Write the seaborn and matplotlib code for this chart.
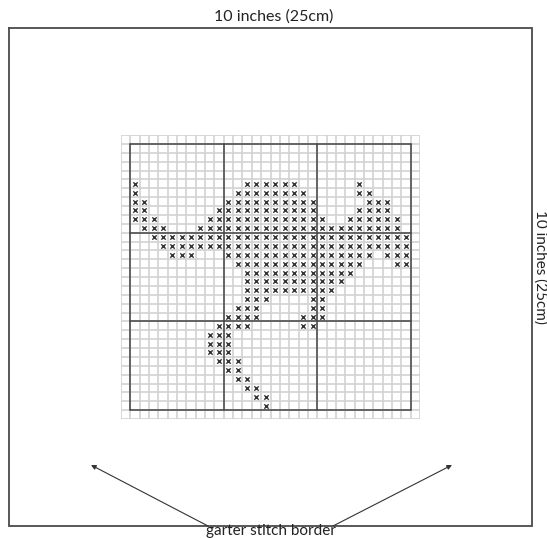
import pandas as pd
import matplotlib
matplotlib.use("Agg")
import matplotlib.pyplot as plt
import seaborn as sns

# chart data: runs of "x" stitches, one run per (row, first col, last col)
run_row = [4, 4, 4, 5, 5, 5, 6, 6, 6, 7, 7, 7, 8, 8, 8, 9, 9, 10, 11,
           12, 12, 12, 13, 13, 14, 15, 16, 17, 17, 18, 18, 19, 19, 20, 20,
           21, 22, 23, 24, 25, 26, 27, 28, 29]
run_start = [0, 12, 24, 0, 11, 24, 0, 10, 25, 0, 9, 24, 0, 8, 23, 1, 7, 2, 3,
             4, 10, 27, 11, 28, 12, 12, 12, 12, 19, 11, 19, 10, 18, 9, 18,
             8, 8, 8, 9, 10, 11, 12, 13, 14]
run_end = [0, 17, 24, 0, 18, 25, 1, 19, 27, 1, 19, 27, 2, 20, 28, 3, 28, 29, 29,
           6, 25, 29, 24, 29, 23, 22, 21, 14, 20, 13, 20, 13, 20, 12, 19,
           10, 10, 10, 11, 11, 12, 13, 14, 14]

n_cells = 30        # stitches per side inside the heavy box
block = 10          # heavy line every 10 stitches
top_label = "10 inches (25cm)"
side_label = "10 inches (25cm)"
bottom_label = "garter stitch border"

# expand runs into one row per stitch
cells = []
for r, a, b in zip(run_row, run_start, run_end):
    for c in range(a, b + 1):
        cells.append({"col": c + 0.5, "row": r + 0.5})
df = pd.DataFrame(cells)

sns.set_style("white")
plt.rcParams['font.family'] = ['Lato', 'DejaVu Sans']

W, H = 547, 538
fig = plt.figure(figsize=(W / 100, H / 100), dpi=100)

# page axes in pixel units for the border, labels and arrows
page = fig.add_axes([0, 0, 1, 1])
page.set_xlim(0, W)
page.set_ylim(H, 0)
page.axis("off")
page.plot([9, 532, 532, 9, 9], [28, 28, 526, 526, 28], color="#4a4a4a", lw=1.3,
          solid_joinstyle="miter")
page.text(274, 17, top_label, ha="center", va="center", fontsize=11.5, color="#222")
page.text(540, 267, side_label, ha="center", va="center", rotation=270,
          fontsize=11, color="#222")
page.text(271, 537.5, bottom_label, ha="center", va="bottom", fontsize=11,
          color="#222")
for tail, head in [((208, 526), (91, 465)), ((333, 526), (452, 465))]:
    page.annotate("", xy=head, xytext=tail,
                  arrowprops=dict(arrowstyle="-|>", color="#333", lw=0.8,
                                  mutation_scale=7, shrinkA=0, shrinkB=0))

# chart grid, one spare cell all round
ax = fig.add_axes([121 / W, 1 - 419 / H, 299 / W, 284 / H])
ax.set_xlim(-1, n_cells + 1)
ax.set_ylim(n_cells + 1, -1)
for v in range(-1, n_cells + 2):
    ax.axvline(v, color="#d2d2d2", lw=1.2, zorder=1)
    ax.axhline(v, color="#d2d2d2", lw=1.2, zorder=1)
for v in range(0, n_cells + 1, block):
    ax.plot([v, v], [0, n_cells], color="#444", lw=1.1, zorder=2)
    ax.plot([0, n_cells], [v, v], color="#444", lw=1.1, zorder=2)

sns.scatterplot(data=df, x="col", y="row", marker="x", s=10, color="#333333",
                linewidth=1.0, ax=ax, zorder=3, legend=False)
ax.set_xlim(-1, n_cells + 1)
ax.set_ylim(n_cells + 1, -1)
ax.set_xticks([])
ax.set_yticks([])
ax.set_xlabel("")
ax.set_ylabel("")
for s in ax.spines.values():
    s.set_visible(False)

fig.savefig("out.png", dpi=100)
